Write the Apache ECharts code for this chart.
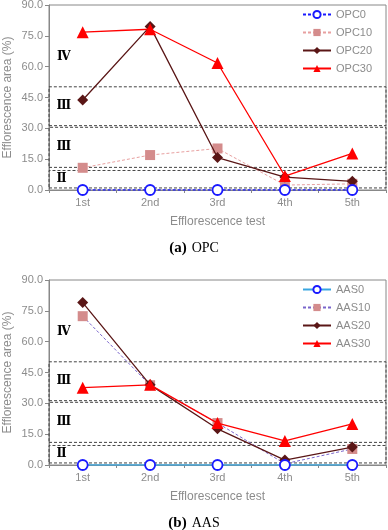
<!DOCTYPE html>
<html>
<head>
<meta charset="utf-8">
<script src="https://cdn.jsdelivr.net/npm/echarts@6/dist/echarts.min.js"></script>
<style>
html, body { margin: 0; padding: 0; background: #fff; }
#main { width: 388px; height: 530px; }
</style>
</head>
<body>
<div id="main"></div>
<script>
var categories = ['1st', '2nd', '3rd', '4th', '5th'];
var yTicks = [0, 15, 30, 45, 60, 75, 90];

// OPC
var opc0 = [0, 0, 0, 0, 0];
var opc10 = [10.8, 17, 20.2, 2.4, 3];
var opc20 = [43.8, 79.6, 15.8, 6.3, 4.2];
var opc30 = [76.8, 78.2, 61.8, 6.8, 17.8];

// AAS
var aas0 = [0, 0, 0, 0, 0];
var aas10 = [72.4, 38.8, 20.4, 0.6, 7.8];
var aas20 = [79, 39, 17.6, 2.4, 8.7];
var aas30 = [37.6, 39, 20.4, 11.7, 20];

// grade bands (%)
var bands = [
    { from: 1, to: 9.5, text: 'Ⅱ' },
    { from: 11, to: 30.5, text: 'Ⅲ' },
    { from: 31.3, to: 50.2, text: 'Ⅲ' }
];
var bandIV = { from: 56, to: 74, text: 'Ⅳ' };

var gray = '#8c8c8c';
var labelFont = 'Liberation Sans';

var myChart = echarts.init(document.getElementById('main'));

function bandArea() {
    var data = bands.map(function (b) {
        return [{ yAxis: b.from, name: b.text }, { yAxis: b.to }];
    });
    data.push([{
        yAxis: bandIV.from, name: bandIV.text,
        itemStyle: { borderWidth: 0 }
    }, { yAxis: bandIV.to }]);
    return {
        silent: true,
        itemStyle: {
            color: 'rgba(0,0,0,0)',
            borderColor: '#444',
            borderWidth: 1,
            borderType: [3, 2]
        },
        label: {
            show: true,
            position: 'insideLeft',
            distance: 8,
            formatter: '{b}',
            color: '#000',
            fontFamily: 'DejaVu Serif',
            fontWeight: 'bold',
            fontSize: 12
        },
        data: data
    };
}

function xAxisOf(idx) {
    return {
        type: 'category',
        gridIndex: idx,
        data: categories,
        boundaryGap: true,
        name: 'Efflorescence test',
        nameLocation: 'middle',
        nameGap: 26,
        nameMoveOverlap: false,
        nameTextStyle: { color: gray, fontSize: 12, fontFamily: labelFont },
        axisLine: { lineStyle: { color: '#888', width: 1 } },
        axisTick: { show: true, length: 3, lineStyle: { color: '#888' } },
        axisLabel: { color: gray, fontSize: 11, fontFamily: labelFont, margin: 7 }
    };
}

function yAxisOf(idx) {
    return {
        type: 'value',
        gridIndex: idx,
        min: yTicks[0],
        max: yTicks[yTicks.length - 1],
        interval: 15,
        name: 'Efflorescence area (%)',
        nameLocation: 'middle',
        nameGap: 35,
        nameMoveOverlap: false,
        nameTextStyle: { color: gray, fontSize: 12, fontFamily: labelFont },
        axisLine: { show: true, lineStyle: { color: '#888', width: 1 } },
        axisTick: { show: true, length: 4, lineStyle: { color: '#888' } },
        splitLine: { show: false },
        axisLabel: {
            color: gray, fontSize: 11, fontFamily: labelFont, margin: 6,
            formatter: function (v) { return v.toFixed(1); }
        }
    };
}

function lineSeries(name, data, idx, opt) {
    var s = {
        name: name,
        type: 'line',
        xAxisIndex: idx,
        yAxisIndex: idx,
        data: data,
        symbol: opt.symbol,
        symbolSize: opt.size,
        showAllSymbol: true,
        lineStyle: { color: opt.line, width: opt.width, type: opt.type || 'solid' },
        itemStyle: {
            color: opt.fill,
            borderColor: opt.border || opt.fill,
            borderWidth: opt.borderWidth || 0
        },
        z: opt.z || 2
    };
    if (opt.area) s.markArea = bandArea();
    return s;
}

function caption(bold, plain, top) {
    return {
        text: '{b|' + bold + '} {n|' + plain + '}',
        left: 'center',
        top: top,
        padding: 0,
        textStyle: {
            rich: {
                b: { fontFamily: 'Liberation Serif', fontWeight: 'bold', fontSize: 15, color: '#000' },
                n: { fontFamily: 'Liberation Serif', fontWeight: 'normal', fontSize: 14, color: '#000' }
            }
        }
    };
}

var legendBase = {
    orient: 'vertical',
    left: 297,
    itemWidth: 28,
    itemHeight: 9,
    itemGap: 7,
    textStyle: { color: gray, fontSize: 11, fontFamily: labelFont }
};

var gridBase = { left: 49, width: 337, height: 185, show: true, borderColor: '#888', borderWidth: 1, backgroundColor: 'rgba(0,0,0,0)', outerBoundsMode: 'none', containLabel: false };

var option = {
    animation: false,
    backgroundColor: '#fff',
    title: [caption('(a)', 'OPC', 239), caption('(b)', 'AAS', 514)],
    legend: [
        Object.assign({ data: ['OPC0', 'OPC10', 'OPC20', 'OPC30'], top: 4 }, legendBase),
        Object.assign({ data: ['AAS0', 'AAS10', 'AAS20', 'AAS30'], top: 279 }, legendBase)
    ],
    grid: [
        Object.assign({ top: 5 }, gridBase),
        Object.assign({ top: 280 }, gridBase)
    ],
    xAxis: [xAxisOf(0), xAxisOf(1)],
    yAxis: [yAxisOf(0), yAxisOf(1)],
    series: [
        lineSeries('OPC0', opc0, 0, { symbol: 'circle', size: 10, line: '#1a1aff', width: 1.5, type: [3, 2], fill: '#fff', border: '#1a1aff', borderWidth: 1.8, area: true, z: 5 }),
        lineSeries('OPC10', opc10, 0, { symbol: 'rect', size: 10, line: '#e8a0a0', width: 1, type: [3, 2], fill: '#d48c8c' }),
        lineSeries('OPC20', opc20, 0, { symbol: 'diamond', size: 11, line: '#5a1616', width: 1.3, fill: '#5a1616', z: 3 }),
        lineSeries('OPC30', opc30, 0, { symbol: 'triangle', size: 12, line: '#ff0000', width: 1.3, fill: '#ff0000', z: 4 }),

        lineSeries('AAS0', aas0, 1, { symbol: 'circle', size: 10, line: '#3aa6e0', width: 1.5, fill: '#fff', border: '#1a1aff', borderWidth: 1.8, area: true, z: 5 }),
        lineSeries('AAS10', aas10, 1, { symbol: 'rect', size: 10, line: '#7a66cc', width: 1, type: [3, 2], fill: '#d48c8c' }),
        lineSeries('AAS20', aas20, 1, { symbol: 'diamond', size: 11, line: '#5a1616', width: 1.3, fill: '#5a1616', z: 3 }),
        lineSeries('AAS30', aas30, 1, { symbol: 'triangle', size: 12, line: '#ff0000', width: 1.3, fill: '#ff0000', z: 4 })
    ]
};
myChart.setOption(option);
</script>
</body>
</html>
